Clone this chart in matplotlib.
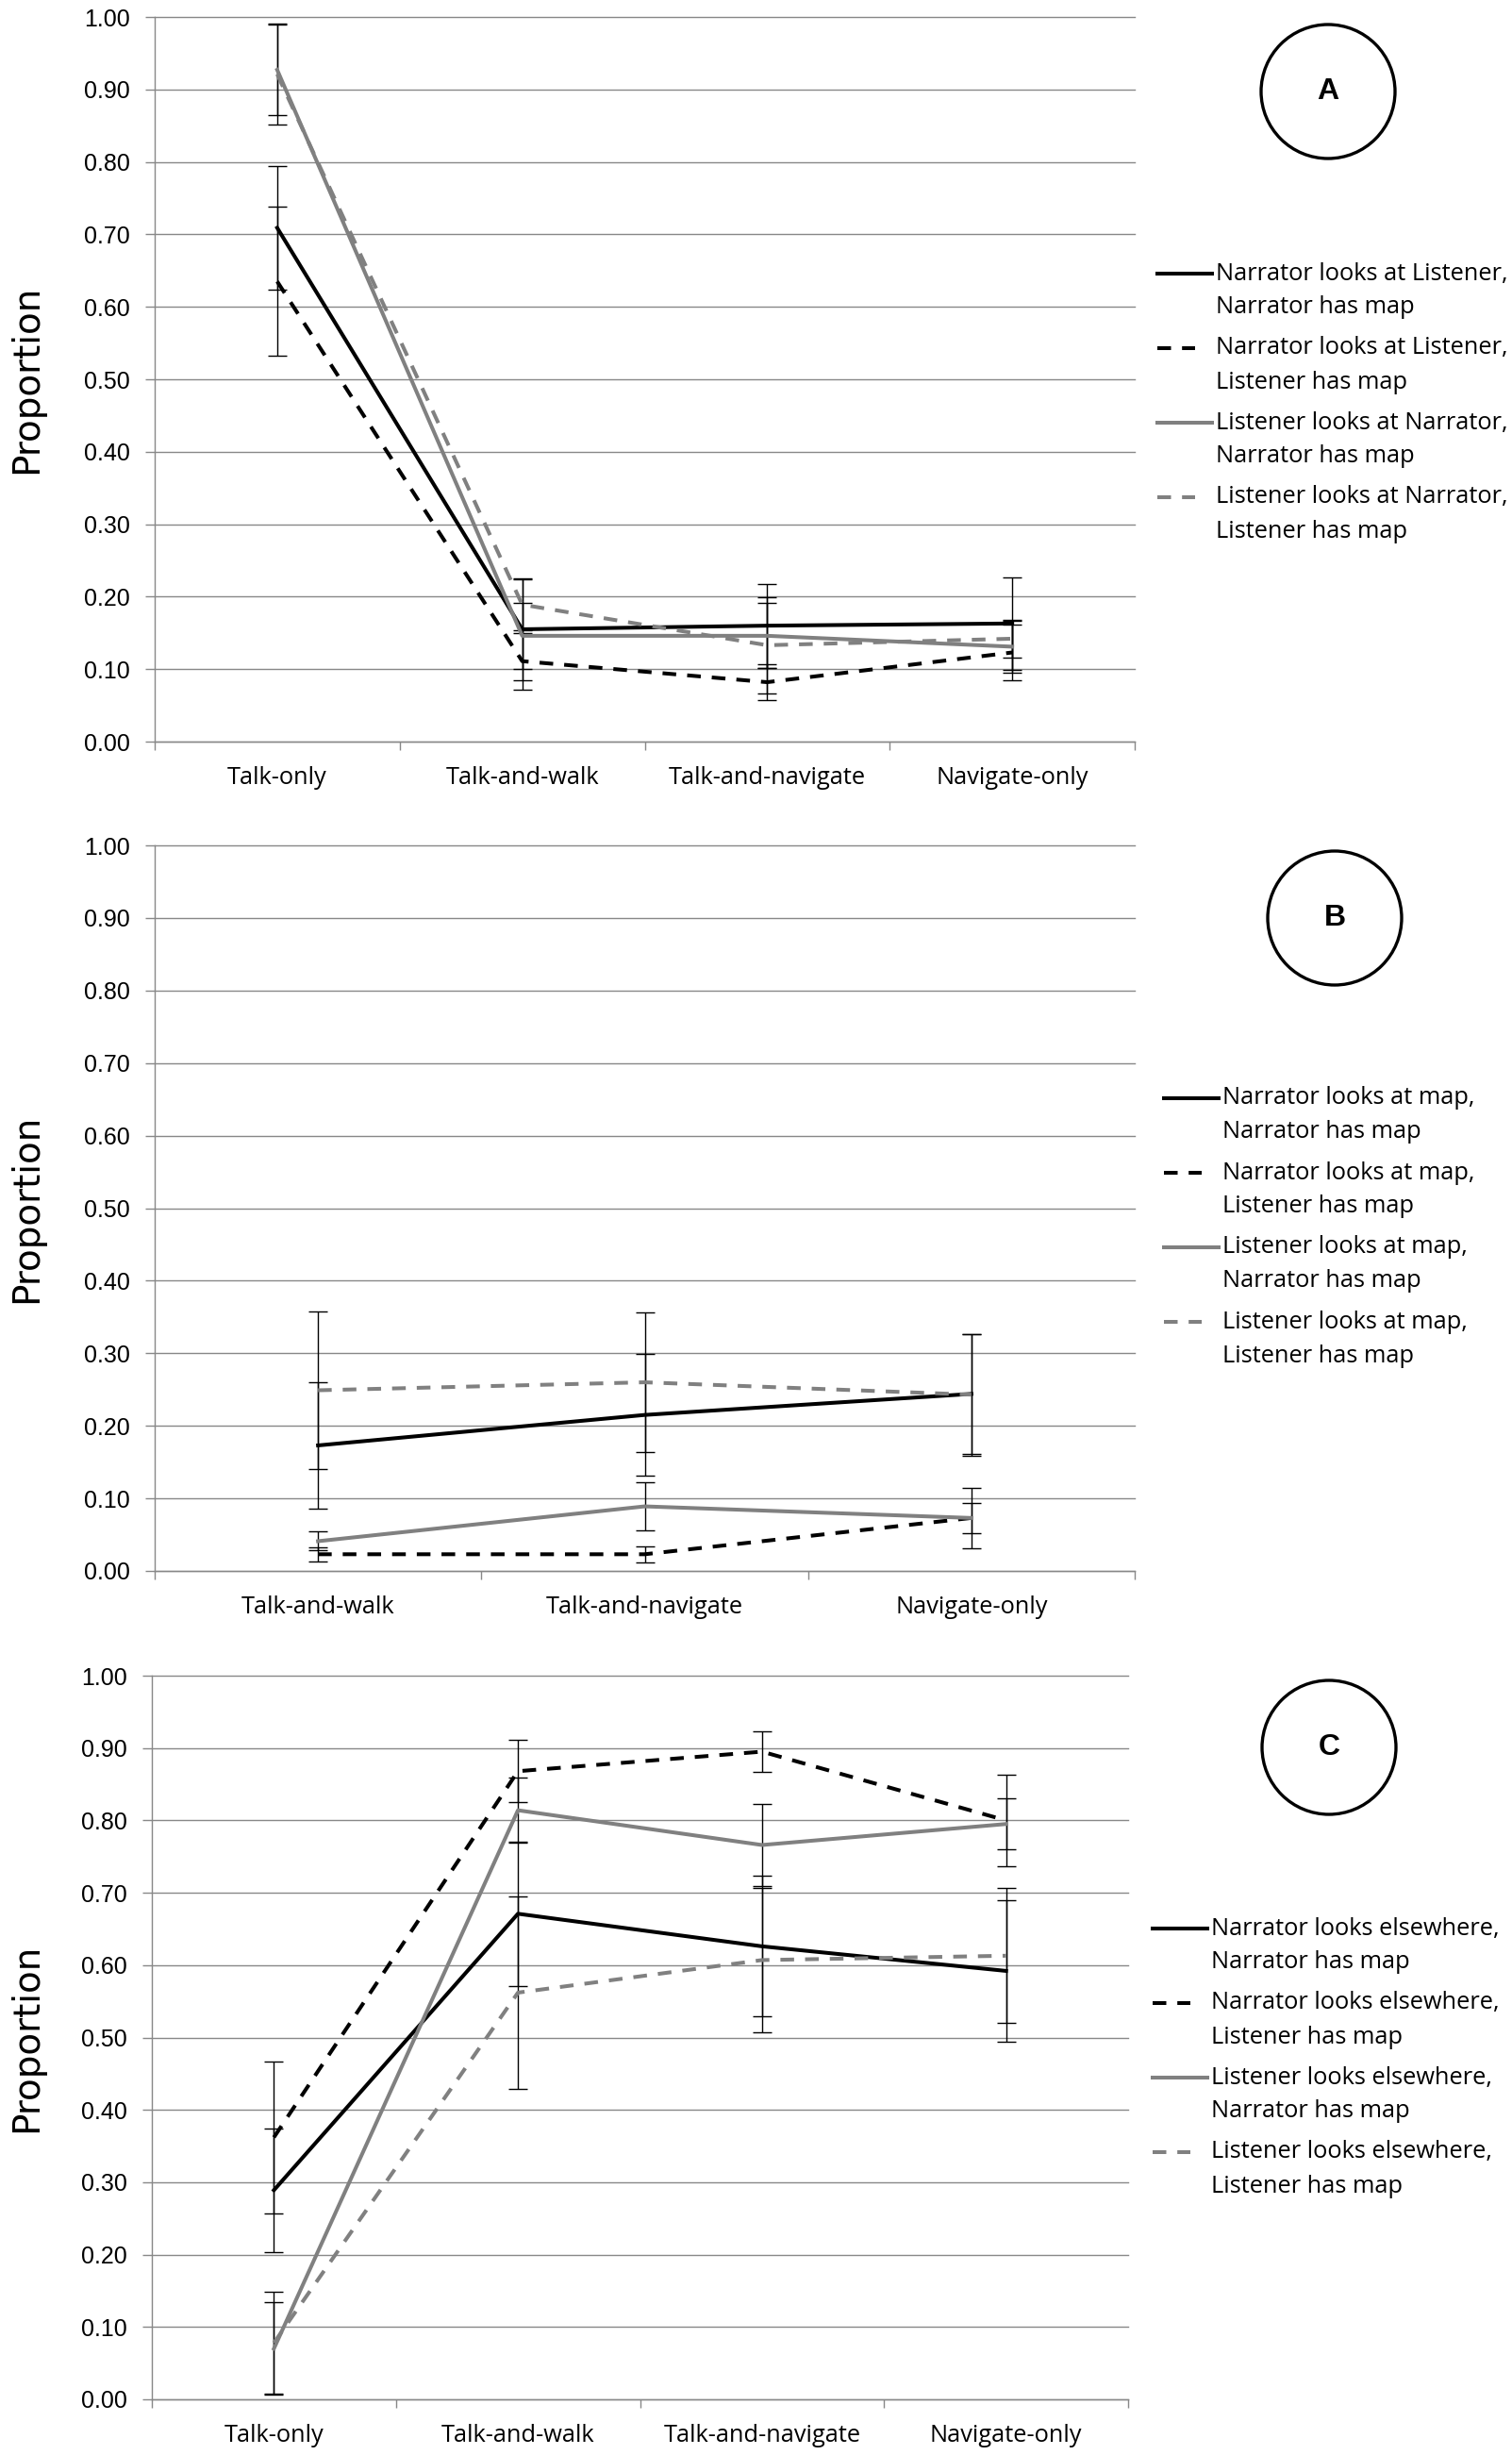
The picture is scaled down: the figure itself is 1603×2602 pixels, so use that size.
import numpy as np
import matplotlib
matplotlib.use("Agg")
import matplotlib.pyplot as plt
from matplotlib.lines import Line2D
from matplotlib.patches import Ellipse

W, H = 1603, 2602

# ---- data ----
cats_4 = ["Talk-only", "Talk-and-walk", "Talk-and-navigate", "Navigate-only"]
cats_3 = ["Talk-and-walk", "Talk-and-navigate", "Navigate-only"]

# panel A: looking at partner
A_nar_nm = [0.709, 0.155, 0.160, 0.163]
A_nar_nm_err = [0.085, 0.070, 0.058, 0.064]
A_nar_lm = [0.635, 0.111, 0.082, 0.123]
A_nar_lm_err = [0.103, 0.039, 0.025, 0.038]
A_lis_nm = [0.927, 0.146, 0.146, 0.131]
A_lis_nm_err = [0.062, 0.046, 0.045, 0.036]
A_lis_lm = [0.921, 0.189, 0.133, 0.142]
A_lis_lm_err = [0.070, 0.035, 0.066, 0.026]
A_labels = ["Narrator looks at Listener,\nNarrator has map",
            "Narrator looks at Listener,\nListener has map",
            "Listener looks at Narrator,\nNarrator has map",
            "Listener looks at Narrator,\nListener has map"]

# panel B: looking at map
B_nar_nm = [0.173, 0.215, 0.244]
B_nar_nm_err = [0.087, 0.084, 0.083]
B_nar_lm = [0.023, 0.023, 0.073]
B_nar_lm_err = [0.010, 0.011, 0.021]
B_lis_nm = [0.041, 0.089, 0.073]
B_lis_nm_err = [0.013, 0.033, 0.042]
B_lis_lm = [0.249, 0.260, 0.243]
B_lis_lm_err = [0.109, 0.096, 0.084]
B_labels = ["Narrator looks at map,\nNarrator has map",
            "Narrator looks at map,\nListener has map",
            "Listener looks at map,\nNarrator has map",
            "Listener looks at map,\nListener has map"]

# panel C: looking elsewhere
C_nar_nm = [0.289, 0.671, 0.626, 0.592]
C_nar_nm_err = [0.085, 0.100, 0.097, 0.098]
C_nar_lm = [0.362, 0.868, 0.895, 0.800]
C_nar_lm_err = [0.105, 0.043, 0.028, 0.063]
C_lis_nm = [0.070, 0.814, 0.766, 0.795]
C_lis_nm_err = [0.064, 0.045, 0.057, 0.035]
C_lis_lm = [0.078, 0.562, 0.607, 0.613]
C_lis_lm_err = [0.070, 0.133, 0.100, 0.093]
C_labels = ["Narrator looks elsewhere,\nNarrator has map",
            "Narrator looks elsewhere,\nListener has map",
            "Listener looks elsewhere,\nNarrator has map",
            "Listener looks elsewhere,\nListener has map"]

GRAY = "#808080"
GRID = "#888888"
LW = 2.9
DASH = (3.6, 2.9)
styles = [("black", None), ("black", DASH), (GRAY, None), (GRAY, DASH)]

TXT = ["Open Sans", "DejaVu Sans"]
NUM = ["Liberation Sans", "DejaVu Sans"]


def px(x0, y0, x1, y1):
    # pixel box (top-left origin) -> figure rect
    return [x0 / W, 1 - y1 / H, (x1 - x0) / W, (y1 - y0) / H]


def draw_panel(fig, rect, cats, series, errs, labels, letter, circ, leg_x, leg_y):
    ax = fig.add_axes(rect)
    x = np.arange(len(cats))
    for vals, err in zip(series, errs):
        ax.errorbar(x, vals, yerr=err, fmt="none", ecolor="black",
                    elinewidth=1.0, capsize=7, capthick=1.0, zorder=2)
    for (col, dash), vals in zip(styles, series):
        ln, = ax.plot(x, vals, color=col, lw=LW, zorder=3)
        if dash:
            ln.set_dashes(dash)

    ax.set_xlim(-0.5, len(cats) - 0.5)
    ax.set_ylim(0, 1.0)
    ax.set_yticks(np.arange(0, 1.001, 0.1))
    ax.set_yticklabels([f"{v:.2f}" for v in np.arange(0, 1.001, 0.1)],
                       family=NUM, fontsize=18)
    ax.set_xticks(x)
    ax.set_xticklabels(cats, family=TXT, fontsize=18.3)
    ax.set_xticks(np.arange(-0.5, len(cats), 1), minor=True)
    ax.tick_params(axis="x", which="major", length=0, pad=19)
    ax.tick_params(axis="x", which="minor", length=6.5, color=GRID, width=1)
    ax.tick_params(axis="y", length=7, color=GRID, width=1, pad=12)
    ax.yaxis.grid(True, color=GRID, lw=1, clip_on=False)
    ax.set_axisbelow(True)
    for s in ["top", "right"]:
        ax.spines[s].set_visible(False)
    for s in ["left", "bottom"]:
        ax.spines[s].set_color(GRID)
        ax.spines[s].set_linewidth(1)

    # y label
    yc = rect[1] + rect[3] / 2
    fig.text(28 / W, yc, "Proportion", rotation=90, ha="center", va="center",
             family="DejaVu Sans", fontsize=28)

    # letter circle
    cx, cy, r = circ
    fig.add_artist(Ellipse((cx / W, 1 - cy / H), 2 * r / W, 2 * r / H,
                           transform=fig.transFigure, fill=False,
                           edgecolor="black", lw=2.4))
    fig.text(cx / W, 1 - cy / H, letter, ha="center", va="center",
             family=NUM, fontweight="bold", fontsize=23)

    # legend drawn by hand so the sample sits on the first text line
    for i, ((col, dash), lab) in enumerate(zip(styles, labels)):
        y = leg_y + i * 79
        l1, l2 = lab.split("\n")
        x0 = leg_x - 62
        x1 = leg_x - 4 if dash is None else leg_x - 22
        ln = Line2D([x0 / W, x1 / W], [1 - y / H, 1 - y / H], color=col,
                    lw=LW, transform=fig.transFigure)
        if dash:
            ln.set_dashes(dash)
        fig.add_artist(ln)
        fig.text(leg_x / W, 1 - y / H, l1, ha="left", va="center",
                 family=TXT, fontsize=18.3)
        fig.text(leg_x / W, 1 - (y + 36) / H, l2, ha="left", va="center",
                 family=TXT, fontsize=18.3)
    return ax


fig = plt.figure(figsize=(W / 100, H / 100), dpi=100)

draw_panel(fig, px(164, 18, 1203, 786), cats_4,
           [A_nar_nm, A_nar_lm, A_lis_nm, A_lis_lm],
           [A_nar_nm_err, A_nar_lm_err, A_lis_nm_err, A_lis_lm_err],
           A_labels, "A", (1408, 97, 71), 1289, 290)

draw_panel(fig, px(164, 896, 1203, 1665), cats_3,
           [B_nar_nm, B_nar_lm, B_lis_nm, B_lis_lm],
           [B_nar_nm_err, B_nar_lm_err, B_lis_nm_err, B_lis_lm_err],
           B_labels, "B", (1415, 973, 71), 1296, 1164)

draw_panel(fig, px(161, 1776, 1196, 2543), cats_4,
           [C_nar_nm, C_nar_lm, C_lis_nm, C_lis_lm],
           [C_nar_nm_err, C_nar_lm_err, C_lis_nm_err, C_lis_lm_err],
           C_labels, "C", (1409, 1852, 71), 1284, 2044)

fig.savefig("out.png", dpi=100)
